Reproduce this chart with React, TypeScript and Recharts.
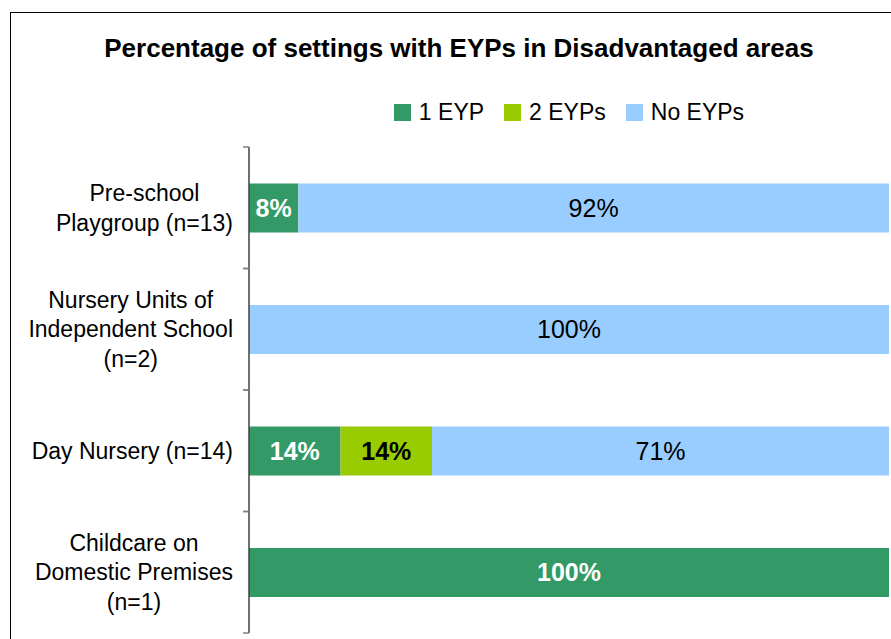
import { Bar, BarChart, LabelList, XAxis, YAxis } from "recharts";

const categories = [
    "Pre-school\nPlaygroup (n=13)",
    "Nursery Units of\nIndependent School\n(n=2)",
    "Day Nursery (n=14)",
    "Childcare on\nDomestic Premises\n(n=1)",
];
const oneEyp = [7.7, 0, 14.3, 100];
const twoEyps = [0, 0, 14.3, 0];
const noEyps = [92.3, 100, 71.4, 0];

const seriesNames = ["1 EYP", "2 EYPs", "No EYPs"];
const seriesKeys = ["one", "two", "none"];
const colors = ["#339966", "#99CC00", "#99CCFF"];

const data = categories.map((name, i) => ({
    name,
    one: oneEyp[i],
    two: twoEyps[i],
    none: noEyps[i],
}));

const FONT = "'Liberation Sans', Arial, sans-serif";
const BAND = (639 - 146 - 7) / categories.length;

let ctx: CanvasRenderingContext2D | null = null;
function textWidth(s: string, size: number) {
    if (!ctx) ctx = document.createElement("canvas").getContext("2d");
    if (!ctx) return s.length * size * 0.5;
    ctx.font = `${size}px ${FONT}`;
    return ctx.measureText(s).width;
}

function CategoryTick(props: any) {
    const { y, payload } = props;
    const lines: string[] = String(payload.value).split("\n");
    const size = 23;
    const lh = 29.5;
    const maxW = Math.max(...lines.map((l) => textWidth(l, size)));
    const cx = 233 - maxW / 2;
    const start = y - ((lines.length - 1) * lh) / 2;
    return (
        <g>
            <line x1={243} x2={249} y1={y - BAND / 2} y2={y - BAND / 2} stroke="#808080" strokeWidth={1.5} />
            <line x1={243} x2={249} y1={y + BAND / 2} y2={y + BAND / 2} stroke="#808080" strokeWidth={1.5} />
            {lines.map((l, i) => (
                <text key={i} x={cx} y={start + i * lh + 8.2} textAnchor="middle" fontSize={size} fontFamily={FONT} fill="#000">
                    {l}
                </text>
            ))}
        </g>
    );
}

const fmt = (v: any) => (v ? `${Math.round(Number(v))}%` : "");

export default function App() {
    return (
        <div style={{ position: "absolute", left: 0, top: 0, width: 891, height: 639, overflow: "hidden", background: "#fff", fontFamily: FONT }}>
            <div style={{ position: "absolute", left: 10, top: 12, width: 1000, height: 1000, borderTop: "1.5px solid #000", borderLeft: "1.5px solid #000" }} />
            <div style={{ position: "absolute", left: 0, width: 918, top: 35, textAlign: "center", fontSize: 26, lineHeight: "26px", fontWeight: "bold", color: "#000" }}>
                Percentage of settings with EYPs in Disadvantaged areas
            </div>
            <div style={{ position: "absolute", left: 249, width: 640, top: 101, display: "flex", justifyContent: "center", alignItems: "center", fontSize: 23, lineHeight: "23px" }}>
                {seriesNames.map((n, i) => (
                    <div key={n} style={{ display: "flex", alignItems: "center", marginRight: i < seriesNames.length - 1 ? 20 : 0 }}>
                        <span style={{ width: 17, height: 17, background: colors[i], display: "inline-block", marginRight: 8 }} />
                        <span>{n}</span>
                    </div>
                ))}
            </div>
            <div style={{ position: "absolute", left: 0, top: 0 }}>
                <BarChart
                    width={891}
                    height={639}
                    data={data}
                    layout="vertical"
                    barCategoryGap="30%"
                    margin={{ top: 147, right: 2, bottom: 6, left: 0 }}
                >
                    <XAxis type="number" domain={[0, 100]} hide />
                    <YAxis
                        type="category"
                        dataKey="name"
                        width={249}
                        axisLine={{ stroke: "#404040", strokeWidth: 1.5 }}
                        tickLine={false}
                        tick={<CategoryTick />}
                        interval={0}
                    />
                    {seriesKeys.map((k, i) => (
                        <Bar key={k} dataKey={k} stackId="a" fill={colors[i]} isAnimationActive={false}>
                            <LabelList
                                dataKey={k}
                                position="center"
                                formatter={fmt}
                                fill={i === 0 ? "#fff" : "#000"}
                                fontSize={25}
                                fontWeight={i === 2 ? "normal" : "bold"}
                                fontFamily={FONT}
                            />
                        </Bar>
                    ))}
                </BarChart>
            </div>
        </div>
    );
}
